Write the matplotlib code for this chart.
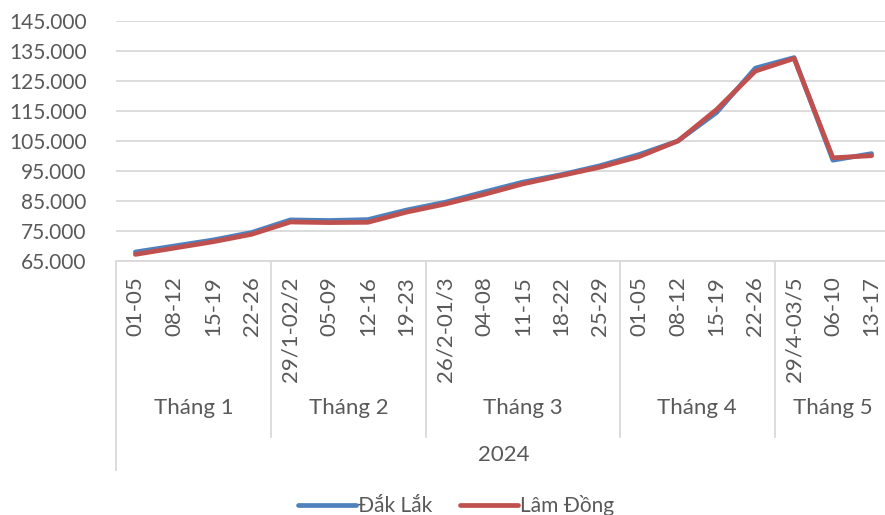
import matplotlib
matplotlib.use("Agg")
import matplotlib.pyplot as plt

plt.rcParams['font.family'] = ['Lato', 'DejaVu Sans']

# category labels (weeks), grouped by month
weeks = ["01-05", "08-12", "15-19", "22-26",
         "29/1-02/2", "05-09", "12-16", "19-23",
         "26/2-01/3", "04-08", "11-15", "18-22", "25-29",
         "01-05", "08-12", "15-19", "22-26",
         "29/4-03/5", "06-10", "13-17"]
months = ["Tháng 1", "Tháng 2", "Tháng 3", "Tháng 4", "Tháng 5"]
month_sizes = [4, 4, 5, 4, 3]
year = "2024"

dak_lak = [68000, 70000, 72000, 74500, 78700, 78500, 78800, 82000, 84600, 88000,
           91300, 93800, 96800, 100500, 105000, 114500, 129300, 132800, 98600, 100800]
lam_dong = [67200, 69300, 71400, 73900, 78000, 77800, 77900, 81300, 84000, 87200,
            90700, 93500, 96300, 99800, 105000, 115500, 128300, 132500, 99400, 100100]

blue = "#4F81BD"
red = "#C0504D"
grid_c = "#D9D9D9"
text_c = "#595959"

fig = plt.figure(figsize=(8.85, 5.15), dpi=100)
W, H = 885, 515
left, right, top, bottom = 116, 891, 21, 261
ax = fig.add_axes([left / W, 1 - bottom / H, (right - left) / W, (bottom - top) / H])

x = list(range(len(weeks)))
ax.plot(x, dak_lak, color=blue, lw=3.4, solid_capstyle='round', label="Đắk Lắk", zorder=3)
ax.plot(x, lam_dong, color=red, lw=3.4, solid_capstyle='round', label="Lâm Đồng", zorder=4)

ax.set_xlim(-0.5, len(weeks) - 0.5)
ax.set_ylim(65000, 145000)
ax.set_yticks(range(65000, 145001, 10000))
ax.set_yticklabels([f"{v // 1000}.000" for v in range(65000, 145001, 10000)],
                   fontsize=15, color=text_c)
ax.yaxis.grid(True, color=grid_c, lw=1.3)
ax.set_axisbelow(True)
ax.tick_params(axis='y', length=0, pad=21)
ax.tick_params(axis='x', length=0, labelbottom=False)
for s in ["top", "right", "left"]:
    ax.spines[s].set_visible(False)
ax.spines["bottom"].set_color(grid_c)
ax.spines["bottom"].set_linewidth(1.3)

trans = ax.get_xaxis_transform()
ah = bottom - top
def fy(py):
    return (bottom - py) / ah

# week labels
for i, w in enumerate(weeks):
    ax.text(i, fy(276), w, rotation=90, ha='center', va='top', fontsize=16,
            color=text_c, transform=trans, clip_on=False)

# month labels and separators
start = 0
for m, n in zip(months, month_sizes):
    ax.text(start + n / 2 - 0.5, fy(408), m, ha='center', va='center', fontsize=16,
            color=text_c, transform=trans, clip_on=False)
    if start > 0:
        ax.plot([start - 0.5, start - 0.5], [0, fy(437)], color=grid_c, lw=1.3,
                transform=trans, clip_on=False)
    start += n
ax.plot([-0.5, -0.5], [0, fy(470)], color=grid_c, lw=1.3, transform=trans, clip_on=False)
ax.plot([len(weeks) - 0.5] * 2, [0, fy(470)], color=grid_c, lw=1.3, transform=trans, clip_on=False)

ax.text((len(weeks) - 1) / 2, fy(455), year, ha='center', va='center', fontsize=16,
        color=text_c, transform=trans, clip_on=False)

fig.legend(loc='center', bbox_to_anchor=(456 / W, 1 - 506 / H), ncol=2, frameon=False,
           fontsize=15, handlelength=2.8, handletextpad=0.1, columnspacing=1.3,
           labelcolor=text_c)

fig.savefig("out.png", dpi=100)
